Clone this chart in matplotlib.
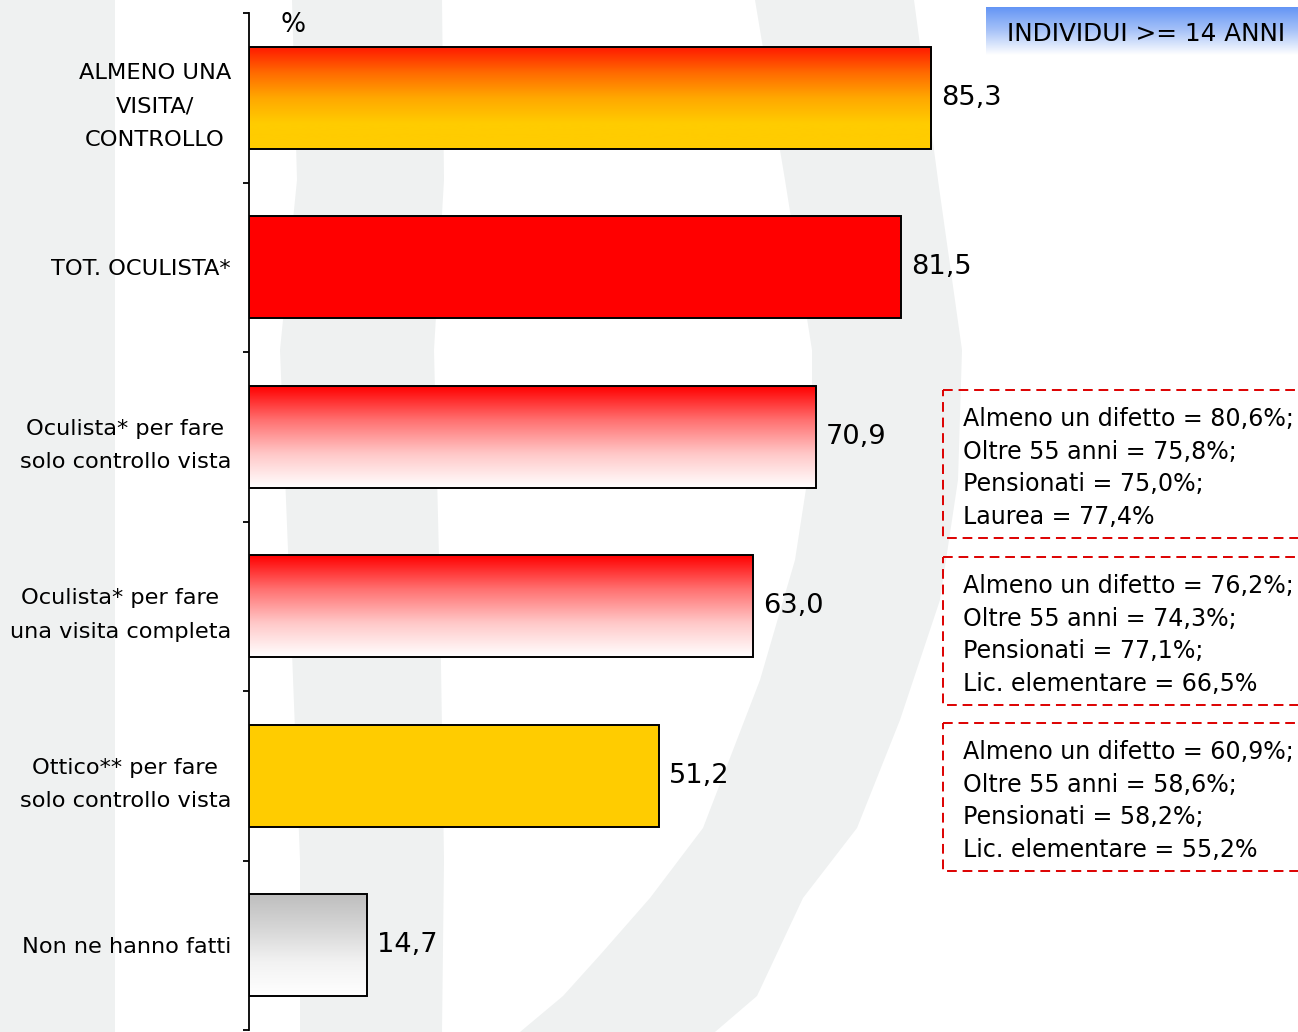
import matplotlib.pyplot as plt
import numpy as np
from matplotlib.colors import LinearSegmentedColormap
from matplotlib.patches import Rectangle, Polygon

plt.rcParams['font.family'] = ['DejaVu Sans']

# dati
categorie = ['ALMENO UNA\nVISITA/\nCONTROLLO', 'TOT. OCULISTA*',
             'Oculista* per fare\nsolo controllo vista',
             'Oculista* per fare\nuna visita completa',
             'Ottico** per fare\nsolo controllo vista', 'Non ne hanno fatti']
valori = [85.3, 81.5, 70.9, 63.0, 51.2, 14.7]
etichette = ['85,3', '81,5', '70,9', '63,0', '51,2', '14,7']
note = [
    'Almeno un difetto = 80,6%;\nOltre 55 anni = 75,8%;\nPensionati = 75,0%;\nLaurea = 77,4%',
    'Almeno un difetto = 76,2%;\nOltre 55 anni = 74,3%;\nPensionati = 77,1%;\nLic. elementare = 66,5%',
    'Almeno un difetto = 60,9%;\nOltre 55 anni = 58,6%;\nPensionati = 58,2%;\nLic. elementare = 55,2%',
]
titolo = 'INDIVIDUI >= 14 ANNI'

# riempimenti: colori pieni o sfumature (alto -> basso)
sfumature = [
    ['#FF1A00', '#FF6A00', '#FFA800', '#FFCC00', '#FFCC00'],
    None,
    ['#FF0000', '#FF7070', '#FFC8C8', '#FFFFFF'],
    ['#FF0000', '#FF7070', '#FFC8C8', '#FFFFFF'],
    None,
    ['#BEBEBE', '#D6D6D6', '#F2F2F2', '#FFFFFF'],
]
pieni = [None, '#FF0000', None, None, '#FFCC00', None]

W, H = 1298, 1032
fig = plt.figure(figsize=(W / 100, H / 100), dpi=100)

# sfondo (filigrana)
bg = fig.add_axes([0, 0, 1, 1], zorder=0)
bg.set_xlim(0, W)
bg.set_ylim(H, 0)
bg.axis('off')
grigio = '#EFF1F1'
bg.add_patch(Rectangle((0, 0), 115, H, color=grigio, lw=0))
bg.add_patch(Polygon([(292, 0), (297, 180), (280, 350), (290, 600), (300, 860), (300, H),
                      (442, H), (444, 860), (440, 600), (434, 350), (444, 180), (442, 0)],
                     color=grigio, lw=0))
bg.add_patch(Polygon([(755, 0), (785, 180), (812, 350), (812, 450), (795, 560),
                      (760, 680), (703, 828), (650, 898), (600, 955), (563, 996), (520, H),
                      (715, H), (757, 996), (803, 898), (857, 828), (900, 720),
                      (940, 600), (958, 480), (962, 350), (938, 180), (914, 0)],
                     color=grigio, lw=0))

# grafico
ax = fig.add_axes([249 / W, 2 / H, (W - 249) / W, (1030 - 13) / H], zorder=1)
ax.patch.set_alpha(0)
y = np.arange(len(valori))
h = 0.6
bars = ax.barh(y, valori, height=h, edgecolor='black', linewidth=1.4, zorder=3)

for i, b in enumerate(bars):
    if pieni[i] is not None:
        b.set_facecolor(pieni[i])
    else:
        b.set_facecolor('none')
        cmap = LinearSegmentedColormap.from_list('g%d' % i, sfumature[i])
        grad = np.linspace(0, 1, 256).reshape(-1, 1)
        im = ax.imshow(grad, cmap=cmap, aspect='auto', origin='upper',
                       extent=(0, valori[i], y[i] + h / 2, y[i] - h / 2), zorder=2)
        im.set_clip_path(b)
    ax.text(valori[i] + 1.25, y[i], etichette[i], fontsize=19.6,
            va='center', ha='left')

ax.set_xlim(0, (W - 249) / 8.0)
ax.set_ylim(len(valori) - 0.5, -0.5)

ax.set_yticks(np.arange(len(valori) + 1) - 0.5)
ax.set_yticklabels([])
ax.tick_params(axis='y', which='major', length=4.5, width=1.3, direction='out')
ax.set_yticks(y, categorie, minor=True)
ax.tick_params(axis='y', which='minor', length=0, pad=13, labelsize=16.2)
for lbl in ax.get_yticklabels(minor=True):
    lbl.set_multialignment('center')
    lbl.set_linespacing(1.83)

ax.set_xticks([])
for s in ['top', 'right', 'bottom']:
    ax.spines[s].set_visible(False)
ax.spines['left'].set_linewidth(1.3)

fig.text(293 / W, 1 - 25 / H, '%', fontsize=19, ha='center', va='center')

# sovrapposizione: titolo e riquadri
ov = fig.add_axes([0, 0, 1, 1], zorder=2)
ov.axis('off')

cmap_t = LinearSegmentedColormap.from_list('tit', ['#6495F5', '#A9C4F8', '#FFFFFF'])
ov.imshow(np.linspace(0, 1, 128).reshape(-1, 1), cmap=cmap_t, aspect='auto',
          origin='upper', extent=(986, W, 55, 7))
ov.set_xlim(0, W)
ov.set_ylim(H, 0)
ov.text(1146, 34, titolo, fontsize=17.8, ha='center', va='center')

box_top = [390, 557, 723]
for t, testo in zip(box_top, note):
    ov.add_patch(Rectangle((943, t), 400, 148, fill=False, edgecolor='#DD0000',
                           lw=1.4, ls=(0, (5, 3))))
    ov.text(963, t + 78, testo, fontsize=17.1, ha='left', va='center',
            linespacing=1.44)

fig.savefig('out.png', dpi=100)
